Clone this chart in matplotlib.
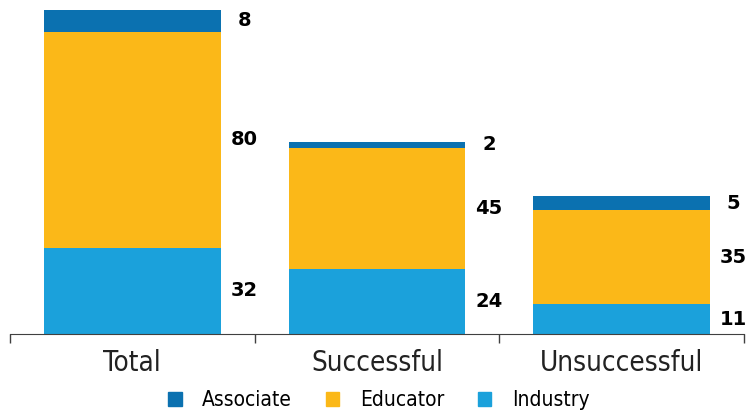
import matplotlib.pyplot as plt
import numpy as np
from matplotlib.patches import Patch

# data
categories = ["Total", "Successful", "Unsuccessful"]
industry = [32, 24, 11]
educator = [80, 45, 35]
associate = [8, 2, 5]

c_ind = "#1ba1db"
c_edu = "#fbb818"
c_ass = "#0b71b0"

fig = plt.figure(figsize=(7.5, 4.13), dpi=100)
ax = fig.add_axes([10 / 750, 79 / 413, 734 / 750, 324 / 413])

x = np.arange(len(categories))
w = 0.723
ind = np.array(industry)
edu = np.array(educator)
ass = np.array(associate)

ax.bar(x, ind, w, color=c_ind, label="Industry")
ax.bar(x, edu, w, bottom=ind, color=c_edu, label="Educator")
ax.bar(x, ass, w, bottom=ind + edu, color=c_ass, label="Associate")

# value labels right of each segment
lab_x = x + w / 2 + 0.096
for i in range(len(categories)):
    for val, base in [(ind[i], 0), (edu[i], ind[i]), (ass[i], ind[i] + edu[i])]:
        ax.text(lab_x[i], base + val / 2, str(val), ha="center", va="center",
                fontsize=14, fontweight="bold", color="black", clip_on=False)

ax.set_xlim(-0.5, 2.5)
ax.set_ylim(0, 120)
for s in ["top", "right", "left"]:
    ax.spines[s].set_visible(False)
ax.spines["bottom"].set_color("#404040")
ax.set_yticks([])

ax.set_xticks([-0.5, 0.5, 1.5, 2.5])
ax.set_xticklabels([])
ax.tick_params(axis="x", which="major", length=6.5, color="#404040", width=1)
ax.set_xticks(x, minor=True)
ax.set_xticklabels(categories, minor=True, fontstretch="condensed",
                   fontsize=20, color="#222222")
ax.tick_params(axis="x", which="minor", length=0, pad=11)

handles = [Patch(color=c_ass, label="Associate"),
           Patch(color=c_edu, label="Educator"),
           Patch(color=c_ind, label="Industry")]
fig.legend(handles=handles, loc="center", bbox_to_anchor=(0.505, 13 / 413),
           ncol=3, frameon=False, handlelength=0.65, handleheight=0.65,
           columnspacing=1.6, handletextpad=1.0,
           prop={"size": 15, "stretch": "condensed"})

fig.savefig("out.png", dpi=100)
